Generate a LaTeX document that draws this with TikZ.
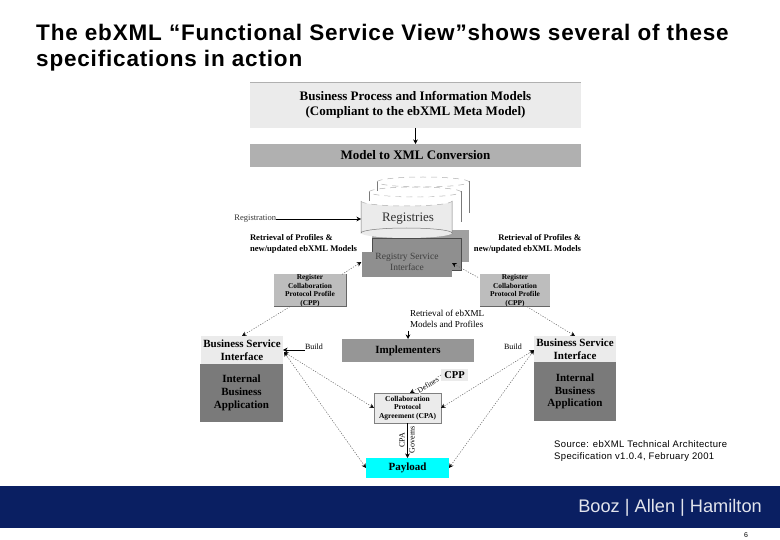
\documentclass[tikz,border=0pt]{standalone}
\usepackage{fontspec}
\setmainfont{Liberation Serif}
\newfontfamily\arialf{Liberation Sans}
\newfontfamily\arialsp[LetterSpace=3.6]{Liberation Sans}
\newfontfamily\arialbsp[LetterSpace=3.65,BoldFont={Liberation Sans Bold}]{Liberation Sans}
\usetikzlibrary{arrows.meta}
\definecolor{band}{HTML}{0A1F62}
\definecolor{pale}{HTML}{EBEBEB}
\definecolor{midg}{HTML}{B0B0B0}
\definecolor{cppg}{HTML}{BDBDBD}
\definecolor{darkg}{HTML}{7A7A7A}
\definecolor{rsig}{HTML}{8F8F8F}
\definecolor{dotg}{HTML}{666666}
\definecolor{cyanp}{HTML}{00FFFF}
\tikzset{
  blk/.style={draw=none,inner sep=0pt,outer sep=0pt,align=center,font=\bfseries\fontsize{#1}{1.15\dimexpr #1pt\relax}\selectfont},
  blk/.default=8,
  plain/.style={inner sep=0pt,outer sep=0pt,align=center,font=\fontsize{#1}{1.15\dimexpr #1pt\relax}\selectfont},
  plain/.default=8,
  solidline/.style={draw=black,line width=0.5pt,-{Stealth[length=4.5pt,width=4.5pt]}},
  dotline/.style={draw=dotg,line width=0.5pt,dash pattern=on 1.2pt off 1.4pt,-{Stealth[length=4.5pt,width=4.5pt,color=black]}},
  dotboth/.style={draw=dotg,line width=0.5pt,dash pattern=on 1.2pt off 1.4pt,{Stealth[length=4.5pt,width=4.5pt,color=black]}-{Stealth[length=4.5pt,width=4.5pt,color=black]}},
  cylside/.style={draw=darkg,line width=0.5pt},
  cyldash/.style={draw=midg,line width=0.5pt,dash pattern=on 6pt off 5pt},
}
\begin{document}
\begin{tikzpicture}[x=1pt,y=-1pt]
\useasboundingbox (0,0) rectangle (780,540);
% title
\node[anchor=base west,inner sep=0pt,font=\arialbsp\bfseries\fontsize{22.5}{26}\selectfont] (t1) at (36,41) {The ebXML “Functional Service View”shows several of these};
\node[anchor=base west,inner sep=0pt,font=\arialbsp\bfseries\fontsize{22.5}{26}\selectfont] (t2) at (36,67) {specifications in action};
% top boxes
\node[blk=13,fill=pale,minimum width=331pt,minimum height=46pt] (bp) at (415.5,105) {Business Process and Information Models\\(Compliant to the ebXML Meta Model)};
\draw[midg,line width=0.6pt] (bp.north west) -- (bp.north east);
\node[blk=13,fill=midg,minimum width=331pt,minimum height=23pt] (mx) at (415.5,155.5) {Model to XML Conversion};
\draw[solidline] (bp.south) -- (mx.north);
% registry service interface stack
\node[fill=rsig!85!white,minimum width=97pt,minimum height=32pt,inner sep=0pt] (rb) at (420.5,246) {};
\node[fill=rsig,draw=black!70,line width=0.5pt,minimum width=89pt,minimum height=32pt,inner sep=0pt] (rm) at (416.5,254) {};
\node[fill=rsig,minimum width=90pt,minimum height=25pt,inner sep=0pt] (rsibg) at (406.5,264.5) {};
\node[plain=9.5,text=black!75] (rsi) at (407,262) {Registry Service\\Interface};
% registries cylinders
\path[fill=white] (377,181) arc[start angle=180,end angle=0,x radius=46,y radius=5] -- (469,213) -- (377,213) -- cycle;
\draw[cylside] (469,181) -- (469,213);
\draw[cylside] (377,181) -- (377,191);
\draw[cyldash] (377,182) arc[start angle=180,end angle=540,x radius=46,y radius=5];
\path[fill=white] (369,191) arc[start angle=180,end angle=0,x radius=46,y radius=5] -- (461,222) -- (369,222) -- cycle;
\draw[cylside] (461,191) -- (461,222);
\draw[cylside] (369,191) -- (369,201);
\draw[cyldash] (369,192) arc[start angle=180,end angle=540,x radius=46,y radius=5];
\path[fill=pale] (361,201) arc[start angle=180,end angle=0,x radius=45.5,y radius=5] -- (452,233) arc[start angle=0,end angle=180,x radius=45.5,y radius=5] -- cycle;
\draw[cylside] (361,201) -- (361,233) arc[start angle=180,end angle=0,x radius=45.5,y radius=-5] -- (452,201);
\draw[cyldash] (361,201) arc[start angle=180,end angle=0,x radius=45.5,y radius=5];
\draw[cyldash,draw=white] (361,201) arc[start angle=180,end angle=360,x radius=45.5,y radius=5];
\node[plain=13,text=black!80] (reg) at (408,219) {Registries};
\coordinate (regw) at (361,219);
% labels upper
\node[plain=8.5,anchor=east,text=black!80] (regl) at (276,219) {Registration};
\draw[solidline] (regl.east) -- (regw);
\node[blk=8.6,align=left,anchor=north west] (rl) at (250,234.5) {Retrieval of Profiles \&\\[0.6pt]new/updated ebXML Models};
\node[blk=8.6,align=right,anchor=north east] (rr) at (581,234.5) {Retrieval of Profiles \&\\[0.6pt]new/updated ebXML Models};
% CPP boxes
\node[blk=7.4,fill=cppg,minimum width=72pt,minimum height=31pt] (cl) at (310,290.5) {Register\\Collaboration\\Protocol Profile\\(CPP)};
\draw[black!60,line width=0.6pt] (cl.south west) -- (cl.south east) -- (cl.north east);
\node[blk=7.4,fill=cppg,minimum width=70pt,minimum height=31pt] (cr) at (515,290.5) {Register\\Collaboration\\Protocol Profile\\(CPP)};
\draw[black!60,line width=0.6pt] (cr.south west) -- (cr.south east);
% Business service interfaces
\node[blk=11,fill=pale,minimum width=82pt,minimum height=28pt] (bl) at (242,350) {Business Service\\Interface};
\node[blk=11,fill=darkg,minimum width=83pt,minimum height=58pt] (il) at (241.5,393) {Internal\\Business\\Application};
\node[blk=11,fill=pale,minimum width=82pt,minimum height=26pt] (br) at (575,349) {Business Service\\Interface};
\node[blk=11,fill=darkg,minimum width=82pt,minimum height=59pt] (ir) at (575,391.5) {Internal\\Business\\Application};
% middle
\node[plain=9.1,anchor=north west,align=left] (rt) at (410,310.5) {Retrieval of ebXML\\Models and Profiles};
\node[blk=11,fill=midg!85!black,minimum width=132pt,minimum height=23pt] (imp) at (408,350.5) {Implementers};
\coordinate (rts) at (408,331);
\draw[solidline] (rts) -- (imp.north);
\node[blk=10.5,fill=pale,minimum width=27pt,minimum height=12pt] (cpp) at (454.5,375) {CPP};
\node[blk=7.5,fill=pale,draw=black!50,line width=0.4pt,minimum width=67pt,minimum height=30pt] (cpa) at (407.5,408) {Collaboration\\Protocol\\Agreement (CPA)};
\node[blk=11,fill=cyanp,minimum width=83pt,minimum height=20pt] (pay) at (407.5,468) {Payload};
% build labels
\node[plain=8] (bdl) at (314,347) {Build};
\node[plain=8] (bdr) at (513,347) {Build};
\draw[black,line width=0.5pt,-{Stealth[length=4.5pt,width=4.5pt]}] ([yshift=-3pt]bdl.west) -- (bl.east |- 0,350);
% connectors
\draw[dotline] (cl.north east) ++(-4,0) coordinate (cla) -- (rsibg.west |- 0,262);
\draw[dotline] (cr.north west) ++(-2,3) coordinate (cra) -- (452,263);
\draw[dotline] (cl.south) ++(-20,0) coordinate (clb) -- (bl.north);
\draw[dotline] (cr.south) ++(12,0) coordinate (crb) -- (br.north);
\draw[dotboth] (284,352) coordinate (la) -- (cpa.west);
\draw[dotboth] (la) -- (pay.west);
\draw[dotboth] (534,350) coordinate (ra) -- (cpa.east);
\draw[dotboth] (ra) -- (pay.east);
\draw[dotline] (cpp.west) -- (410,393);
\draw[solidline] (cpa.south) -- (pay.north);
\node[plain=7.5,rotate=32,fill=white,inner sep=0.5pt] (def) at (428,385) {Defines};
\node[plain=8,rotate=90] (cpal) at (402,440) {CPA};
\node[plain=8,rotate=90] (gov) at (412,439.5) {Governs};
% source
\node[anchor=base west,inner sep=0pt,align=left,font=\arialsp\fontsize{9.5}{12}\selectfont] (src1) at (554,447) {Source: ebXML Technical Architecture};
\node[anchor=base west,inner sep=0pt,align=left,font=\arialsp\fontsize{9.5}{12}\selectfont] (src2) at (554,459) {Specification v1.0.4, February 2001};
% footer
\node[fill=band,minimum width=780pt,minimum height=42pt,inner sep=0pt] (bandn) at (390,507) {};
\node[anchor=base east,inner sep=0pt,text=white!88!band,font=\arialf\fontsize{18.2}{20}\selectfont] (logo) at (762,512) {Booz | Allen | Hamilton};
\node[anchor=base,inner sep=0pt,font=\arialf\fontsize{7}{8}\selectfont] (pg) at (746,537) {6};
\end{tikzpicture}
\end{document}
